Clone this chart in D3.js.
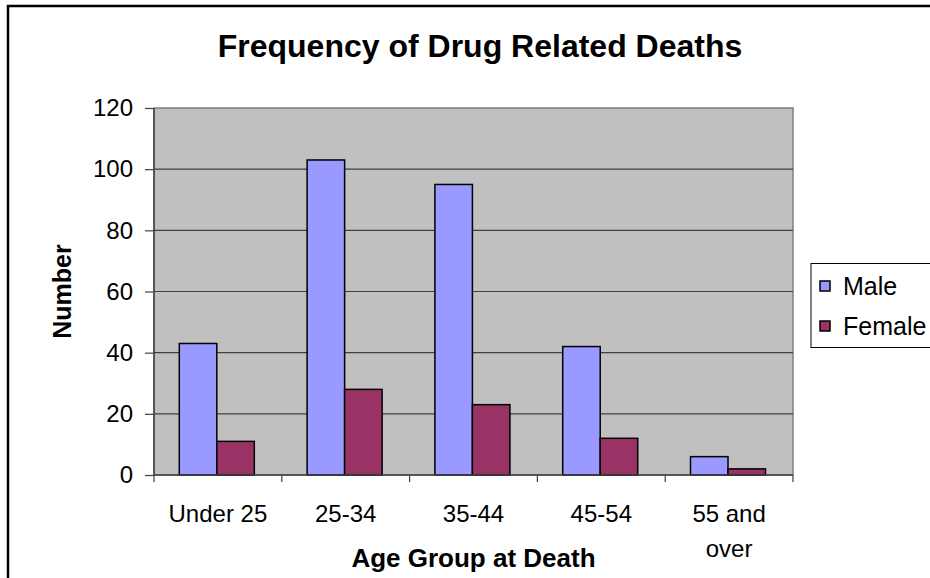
<!DOCTYPE html>
<html>
<head>
<meta charset="utf-8">
<script src="https://cdn.jsdelivr.net/npm/d3@7"></script>
<style>
  html, body { margin: 0; padding: 0; background: #fff; }
  svg { display: block; font-family: "Liberation Sans", Arial, sans-serif; }
</style>
</head>
<body>
<svg id="chart" width="930" height="578"></svg>
<script>
const categories = ["Under 25", "25-34", "35-44", "45-54", "55 and over"];
const seriesNames = ["Male", "Female"];
const maleValues = [43, 103, 95, 42, 6];
const femaleValues = [11, 28, 23, 12, 2];
const yTicks = [0, 20, 40, 60, 80, 100, 120];
const seriesColors = ["#9999FF", "#993366"];

const chartTitle = "Frequency of Drug Related Deaths";
const xTitle = "Age Group at Death";
const yTitle = "Number";

const svg = d3.select("#chart");
const plot = { left: 154, right: 793, top: 108, bottom: 475 };

// outer chart border (extends past right/bottom edges)
svg.append("rect")
  .attr("x", 8).attr("y", 6).attr("width", 1100).attr("height", 1100)
  .attr("fill", "none").attr("stroke", "#000").attr("stroke-width", 2.5);

const x0 = d3.scaleBand().domain(categories).range([plot.left, plot.right]).paddingInner(0).paddingOuter(0);
const bw = x0.bandwidth();
const x1 = d3.scaleBand().domain(seriesNames).range([bw * 0.198, bw * 0.785]).padding(0);
const y = d3.scaleLinear().domain([0, 120]).range([plot.bottom, plot.top]);
const color = d3.scaleOrdinal().domain(seriesNames).range(seriesColors);

// plot background
svg.append("rect")
  .attr("x", plot.left).attr("y", plot.top)
  .attr("width", plot.right - plot.left).attr("height", plot.bottom - plot.top)
  .attr("fill", "#C0C0C0").attr("stroke", "#808080").attr("stroke-width", 1.5);

// gridlines
svg.append("g").selectAll("line")
  .data(yTicks.filter(d => d > 0 && d < 120))
  .join("line")
  .attr("x1", plot.left).attr("x2", plot.right)
  .attr("y1", d => y(d)).attr("y2", d => y(d))
  .attr("stroke", "#404040").attr("stroke-width", 1.2);

// bars
const data = categories.map((c, i) => ({ cat: c, values: [
  { s: "Male", v: maleValues[i] }, { s: "Female", v: femaleValues[i] }
]}));

svg.append("g").selectAll("g")
  .data(data).join("g")
  .attr("transform", d => `translate(${x0(d.cat)},0)`)
  .selectAll("rect")
  .data(d => d.values).join("rect")
  .attr("x", d => x1(d.s))
  .attr("width", x1.bandwidth())
  .attr("y", d => y(d.v))
  .attr("height", d => y(0) - y(d.v))
  .attr("fill", d => color(d.s))
  .attr("stroke", "#000").attr("stroke-width", 1.5);

// y axis
const yAxis = d3.axisLeft(y).tickValues(yTicks).tickSize(9).tickPadding(12).tickFormat(d3.format("d"));
const gy = svg.append("g").attr("transform", `translate(${plot.left},0)`).call(yAxis);
gy.select(".domain").attr("stroke", "#404040").attr("stroke-width", 1.5).attr("d", `M0,${plot.top}V${plot.bottom}`);
gy.selectAll(".tick line").attr("stroke", "#404040").attr("stroke-width", 1.2);
gy.selectAll(".tick text").attr("font-size", 24).attr("fill", "#000")
  .attr("font-family", "'Liberation Sans', Arial, sans-serif");

// x axis with ticks at category boundaries
const gx = svg.append("g").attr("transform", `translate(0,${plot.bottom})`);
gx.append("line").attr("x1", plot.left).attr("x2", plot.right)
  .attr("stroke", "#404040").attr("stroke-width", 1.5);
const boundaries = categories.map(c => x0(c)).concat([plot.right]);
gx.selectAll("line.tk").data(boundaries).join("line").attr("class", "tk")
  .attr("x1", d => d).attr("x2", d => d).attr("y1", 0).attr("y2", 7)
  .attr("stroke", "#404040").attr("stroke-width", 1.2);

const labels = gx.selectAll("text.lbl").data(categories).join("text").attr("class", "lbl")
  .attr("x", d => x0(d) + bw / 2)
  .attr("y", 47)
  .attr("text-anchor", "middle")
  .attr("font-size", 24).attr("fill", "#000");
labels.each(function(d) {
  const t = d3.select(this);
  t.text(d);
  if (this.getComputedTextLength() > bw - 12) {
    const words = d.split(" ");
    const first = words.slice(0, words.length - 1).join(" ");
    const last = words[words.length - 1];
    t.text(null);
    t.append("tspan").attr("x", x0(d) + bw / 2).attr("dy", 0).text(first);
    t.append("tspan").attr("x", x0(d) + bw / 2).attr("dy", 35).text(last);
  }
});

// titles
svg.append("text").attr("x", 480).attr("y", 57).attr("text-anchor", "middle")
  .attr("font-size", 32).attr("font-weight", "bold").text(chartTitle);
svg.append("text").attr("x", (plot.left + plot.right) / 2).attr("y", 567).attr("text-anchor", "middle")
  .attr("font-size", 26).attr("font-weight", "bold").text(xTitle);
svg.append("text")
  .attr("transform", `translate(71,${(plot.top + plot.bottom) / 2}) rotate(-90)`)
  .attr("text-anchor", "middle")
  .attr("font-size", 25).attr("font-weight", "bold").text(yTitle);

// legend
const lg = svg.append("g");
lg.append("rect").attr("x", 811).attr("y", 263.5).attr("width", 200).attr("height", 84)
  .attr("fill", "#fff").attr("stroke", "#000").attr("stroke-width", 1);
const items = lg.selectAll("g.item").data(seriesNames).join("g").attr("class", "item")
  .attr("transform", (d, i) => `translate(820,${281 + i * 40})`);
items.append("rect").attr("width", 10).attr("height", 10)
  .attr("fill", d => color(d)).attr("stroke", "#000").attr("stroke-width", 1.5);
items.append("text").attr("x", 23).attr("y", 14).attr("font-size", 25).attr("fill", "#000").text(d => d);
</script>
</body>
</html>
